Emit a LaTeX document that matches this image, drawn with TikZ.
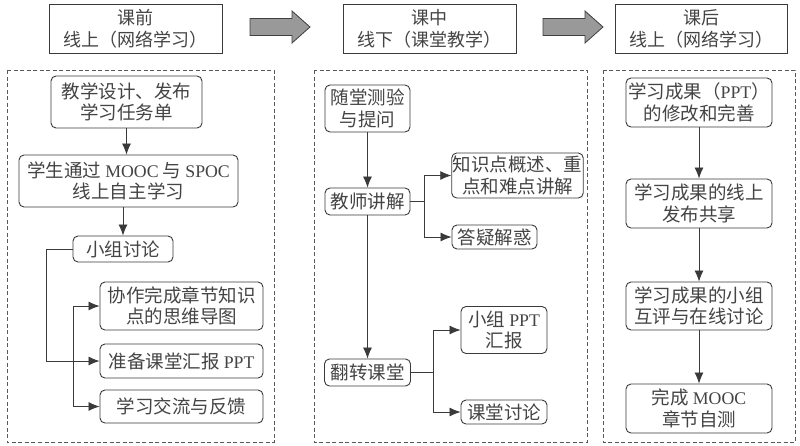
\documentclass[tikz,border=0pt]{standalone}
\usepackage{fontspec}
\usepackage{tikz}
\usetikzlibrary{arrows.meta,positioning}
\setmainfont{Liberation Serif}
\newfontfamily\cjk{Noto Sans CJK SC}
\newfontfamily\latinfont[Scale=0.96]{Liberation Serif}
\newcommand{\latn}[1]{{\latinfont #1}}
\definecolor{lineg}{HTML}{3A3A3A}
\definecolor{textg}{HTML}{444444}
\tikzset{
  stage/.style={draw=lineg, line width=0.9pt, fill=white, align=center,
    inner sep=1pt, text=textg, font=\cjk\fontsize{18}{22}\selectfont},
  stepbox/.style={draw=lineg, line width=0.9pt, rounded corners=5pt, fill=white,
    align=center, inner sep=1pt, text=textg, font=\cjk\fontsize{18.5}{21.5}\selectfont},
  phase/.style={draw=black!65, line width=0.8pt, dash pattern=on 4pt off 2.5pt},
  flowarrow/.style={-{Latex[length=11pt,width=9pt]}, line width=0.8pt, draw=lineg},
  flowline/.style={line width=0.8pt, draw=lineg},
  bigarrow/.style={draw=black!75, fill=black!40, line width=0.8pt, line join=miter}
}
\begin{document}
\begin{tikzpicture}[x=1pt, y=-1pt]
\useasboundingbox (0,0) rectangle (800,445);

% stage headers
\node[stage, minimum width=173pt, minimum height=49pt] (pre) at (135.5,28.5) {课前\\线上（网络学习）};
\node[stage, minimum width=173pt, minimum height=49pt] (mid) at (429.5,28.5) {课中\\线下（课堂教学）};
\node[stage, minimum width=172pt, minimum height=49pt] (post) at (701,28.5) {课后\\线上（网络学习）};
\draw[bigarrow] (250,18.5) -- (292,18.5) -- (292,11) -- (310,27) -- (292,43) -- (292,35.5) -- (250,35.5) -- cycle;
\draw[bigarrow] (543,18.5) -- (585,18.5) -- (585,11) -- (603,27) -- (585,43) -- (585,35.5) -- (543,35.5) -- cycle;

% phase frames
\draw[phase] (7,70) rectangle (274,442);
\draw[phase] (314,70) rectangle (587,442);
\draw[phase] (603,70) rectangle (795,442);

% before class
\node[stepbox, minimum width=151pt, minimum height=52pt] (a1) at (126.5,102) {教学设计、发布\\学习任务单};
\node[stepbox, minimum width=219pt, minimum height=52pt] (a2) at (128.5,181) {学生通过 \latn{MOOC} 与 \latn{SPOC}\\线上自主学习};
\node[stepbox, minimum width=100pt, minimum height=26pt] (a3) at (123,249) {小组讨论};
\node[stepbox, minimum width=163pt, minimum height=48pt] (a4) at (181.5,306) {协作完成章节知识\\点的思维导图};
\node[stepbox, minimum width=163pt, minimum height=34pt] (a5) at (181.5,361) {准备课堂汇报 \latn{PPT}};
\node[stepbox, minimum width=163pt, minimum height=33pt] (a6) at (181.5,406.5) {学习交流与反馈};
\coordinate (split1) at (46,361);
\coordinate (join1) at (73,361);

\draw[flowarrow] (a1.south) -- (a1.south |- a2.north);
\draw[flowarrow] (a3.north |- a2.south) -- (a3.north);
\draw[flowarrow] (a3.west) -| (split1) -- (a5.west);
\draw[flowarrow] (join1) |- (a4.west);
\draw[flowarrow] (join1) |- (a6.west);

% in class
\node[stepbox, minimum width=85pt, minimum height=47pt] (b1) at (367.5,108.5) {随堂测验\\与提问};
\node[stepbox, minimum width=85pt, minimum height=27pt] (b2) at (367.5,201.5) {教师讲解};
\node[stepbox, minimum width=131pt, minimum height=45pt] (b3) at (517.5,175.5) {知识点概述、重\\点和难点讲解};
\node[stepbox, minimum width=85pt, minimum height=24pt] (b4) at (494.5,237) {答疑解惑};
\node[stepbox, minimum width=86pt, minimum height=27pt] (b5) at (367.5,372.5) {翻转课堂};
\node[stepbox, minimum width=86pt, minimum height=47pt] (b6) at (504,330) {小组 \latn{PPT}\\汇报};
\node[stepbox, minimum width=86pt, minimum height=24pt] (b7) at (504,412) {课堂讨论};
\coordinate (split2) at (424,201.5);
\coordinate (split3) at (433,372.5);

\draw[flowarrow] (b1) -- (b2);
\draw[flowarrow] (b2) -- (b5);
\draw[flowline] (b2.east) -- (split2);
\draw[flowarrow] (split2) |- (b3.west);
\draw[flowarrow] (split2) |- (b4.west);
\draw[flowline] (b5.east) -- (split3);
\draw[flowarrow] (split3) |- (b6.west);
\draw[flowarrow] (split3) |- (b7.west);

% after class
\node[stepbox, minimum width=146pt, minimum height=49pt] (c1) at (699,102.5) {学习成果（\latn{PPT}）\\的修改和完善};
\node[stepbox, minimum width=146pt, minimum height=49pt] (c2) at (699,203.5) {学习成果的线上\\发布共享};
\node[stepbox, minimum width=146pt, minimum height=48pt] (c3) at (699,306) {学习成果的小组\\互评与在线讨论};
\node[stepbox, minimum width=146pt, minimum height=49pt] (c4) at (699,408.5) {完成 \latn{MOOC}\\章节自测};

\draw[flowarrow] (c1) -- (c2);
\draw[flowarrow] (c2) -- (c3);
\draw[flowarrow] (c3) -- (c4);
\end{tikzpicture}
\end{document}
